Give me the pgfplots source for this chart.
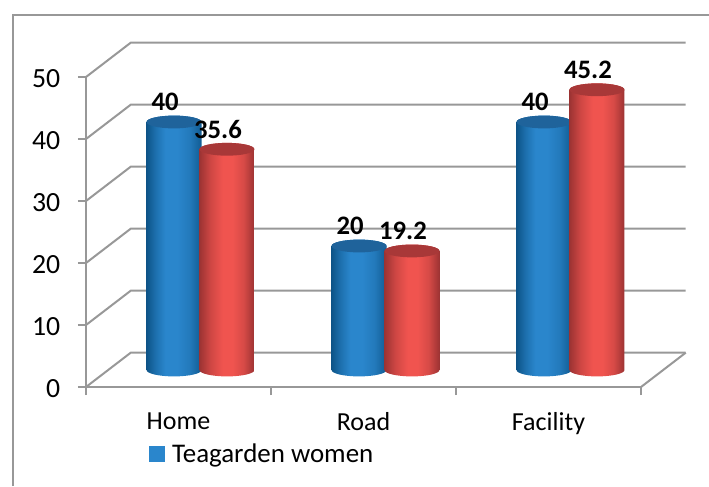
\documentclass[border=0pt]{standalone}
\usepackage{pgfplots}
\usepackage{pgfplotstable}
\pgfplotsset{compat=1.18}
\usepackage{fontspec}
\setmainfont{Carlito}
\newcommand{\PX}{0.75pt}
\definecolor{gridg}{HTML}{989898}
\definecolor{bE}{HTML}{0D5488}
\definecolor{bM}{HTML}{2A86CC}
\definecolor{bT}{HTML}{1F639B}
\definecolor{rE}{HTML}{9C3333}
\definecolor{rM}{HTML}{F0544F}
\definecolor{rT}{HTML}{A83838}
\pgfdeclarehorizontalshading{cylblue}{100bp}{color(0bp)=(bE);color(25bp)=(bE);color(33bp)=(bM!55!bE);color(42bp)=(bM);color(53bp)=(bM);color(64bp)=(bM!75!bE);color(75bp)=(bE!85!bM);color(100bp)=(bE)}
\pgfdeclarehorizontalshading{cylred}{100bp}{color(0bp)=(rE);color(25bp)=(rE);color(35bp)=(rM!60!rE);color(46bp)=(rM);color(55bp)=(rM);color(65bp)=(rM!70!rE);color(75bp)=(rE);color(100bp)=(rE)}
% a cylinder hanging from its data point; \cylh is the value from the table
\newcommand{\cylmark}[2]{%
  \path[shading=#1,shading angle=0,draw=none,yslant=0.12]
    (-27.5*\PX,0pt) -- (-27.5*\PX,-\cylh*6.2*\PX)
    arc[start angle=180,end angle=360,x radius=27.5*\PX,y radius=6.4*\PX]
    -- (27.5*\PX,0pt)
    arc[start angle=0,end angle=180,x radius=27.5*\PX,y radius=6.4*\PX] -- cycle;
  \path[fill=#2,draw=none,yslant=0.12] (0pt,0pt) ellipse[x radius=27.5*\PX,y radius=6.4*\PX];
}
\pgfdeclareplotmark{cylb}{\cylmark{cylblue}{bT}}
\pgfdeclareplotmark{cylr}{\cylmark{cylred}{rT}}
\pgfplotstableread{
pos  blue  red
0.5  40    35.6
1.5  20    19.2
2.5  40    45.2
}\datatable
\begin{document}
\begin{tikzpicture}[x=1pt,y=1pt]
\path[use as bounding box] (0,0) rectangle (709*\PX,486*\PX);
\draw[gridg,line width=2*\PX] (12.5*\PX,0pt) -- (12.5*\PX,471.3*\PX) -- (709*\PX,471.3*\PX);
\begin{axis}[
  at={(86*\PX,99*\PX)},anchor=south west,
  scale only axis,width=555*\PX,height=310*\PX,
  xmin=0,xmax=3,ymin=0,ymax=50,clip=false,
  axis lines=left,axis line style={-,gridg,line width=2*\PX},
  xtick={0,1,2,3},xticklabels={},
  extra x ticks={0.5,1.5,2.5},extra x tick labels={Home,Road,Facility},
  extra x tick style={major tick length=0pt},
  ytick={0,10,...,50},
  tick style={gridg,line width=2*\PX},
  major tick length=8*\PX,tick align=outside,
  xtick pos=bottom,ytick pos=left,
  /pgf/number format/assume math mode=true,
  xticklabel style={yshift=-21*\PX,font=\fontsize{19.5}{22}\selectfont},
  yticklabel style={xshift=-13*\PX,yshift=-1.5*\PX,font=\fontsize{20.8}{23}\selectfont},
  legend style={at={(axis cs:0.34,-10.8)},anchor=west,draw=none,fill=none,
    font=\fontsize{20.2}{23}\selectfont,inner sep=0pt,outer sep=0pt},
  legend image code/.code={\fill[bM] (0pt,-7.5*\PX) rectangle (15*\PX,7.5*\PX);\path (20*\PX,0pt);},
  legend cell align=left,
]
\addlegendimage{}
\addlegendentry{Teagarden women}
% walls and floor
\addplot[gridg,line width=2*\PX,forget plot] coordinates {(0,0) (0.2416,5.53) (3.2416,5.53)};
\addplot[gridg,line width=2*\PX,forget plot] coordinates {(0,10) (0.2416,15.53) (3.2416,15.53)};
\addplot[gridg,line width=2*\PX,forget plot] coordinates {(0,20) (0.2416,25.53) (3.2416,25.53)};
\addplot[gridg,line width=2*\PX,forget plot] coordinates {(0,30) (0.2416,35.53) (3.2416,35.53)};
\addplot[gridg,line width=2*\PX,forget plot] coordinates {(0,40) (0.2416,45.53) (3.2416,45.53)};
\addplot[gridg,line width=2*\PX,forget plot] coordinates {(0,50) (0.2416,55.53) (3.2416,55.53)};
\addplot[gridg,line width=2*\PX,forget plot] coordinates {(3,0) (3.2416,5.53)};
\end{axis}
\begin{axis}[
  at={(108*\PX,116*\PX)},anchor=south west,
  scale only axis,width=555*\PX,height=310*\PX,
  xmin=0,xmax=3,ymin=0,ymax=50,clip=false,hide axis,
]
\addplot[only marks,scatter,scatter/use mapped color={draw=none},mark=cylb,
  visualization depends on={\thisrow{blue}\as\cylh}]
  table[x expr=\thisrow{pos}-0.143,y=blue]{\datatable};
\addplot[only marks,scatter,scatter/use mapped color={draw=none},mark=cylr,
  visualization depends on={\thisrow{red}\as\cylh}]
  table[x expr=\thisrow{pos}+0.143,y=red]{\datatable};
\addplot[only marks,mark=none,draw=none,
  nodes near coords={\pgfmathprintnumber[assume math mode=true]{\pgfplotspointmeta}},
  nodes near coords style={anchor=center,xshift=-9*\PX,yshift=20*\PX,
    font=\fontsize{20}{22}\selectfont\bfseries,black}]
  table[x expr=\thisrow{pos}-0.143,y=blue]{\datatable};
\addplot[only marks,mark=none,draw=none,
  nodes near coords={\pgfmathprintnumber[assume math mode=true]{\pgfplotspointmeta}},
  nodes near coords style={anchor=center,xshift=-9*\PX,yshift=20*\PX,
    font=\fontsize{20}{22}\selectfont\bfseries,black}]
  table[x expr=\thisrow{pos}+0.143,y=red]{\datatable};
\end{axis}
\end{tikzpicture}
\end{document}
